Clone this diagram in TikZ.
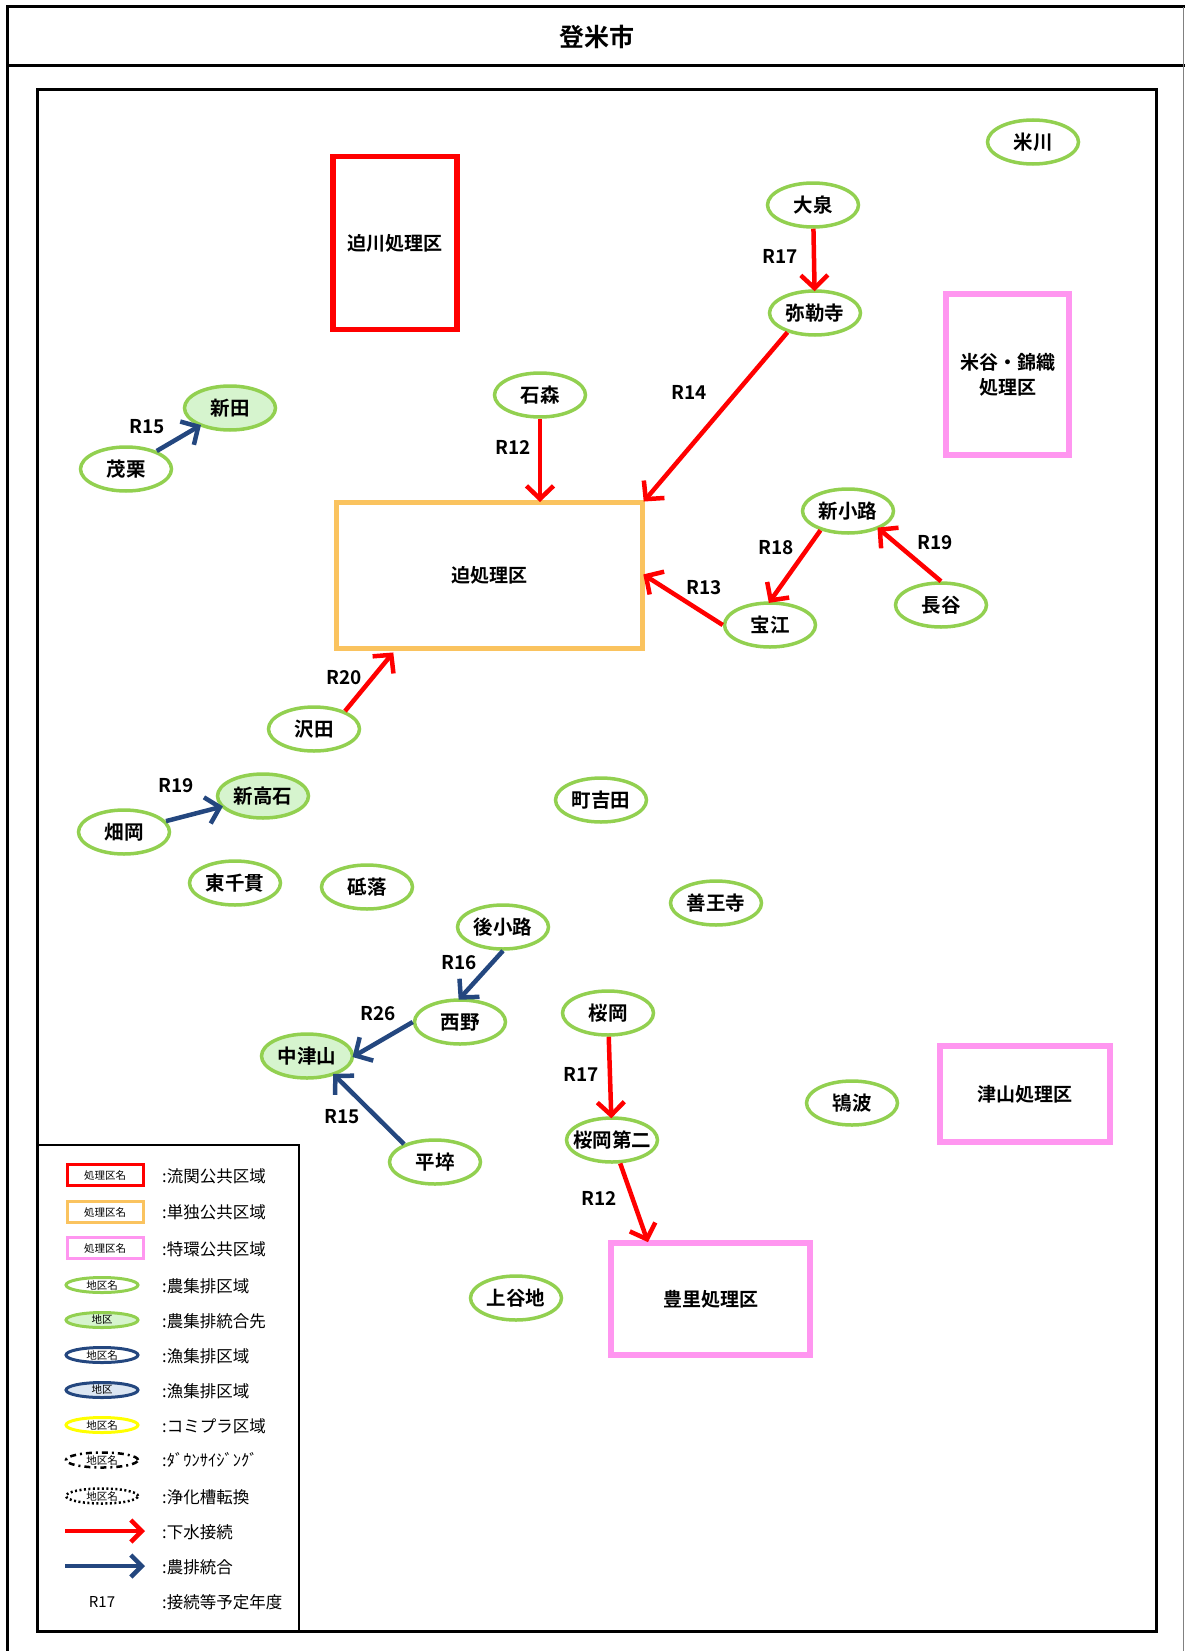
\documentclass[tikz,border=0pt]{standalone}
\usepackage{fontspec}
\setmainfont{Noto Sans CJK JP}[BoldFont={Noto Sans CJK JP Bold}]
\usetikzlibrary{shapes.geometric,arrows.meta,calc}
\definecolor{agreen}{RGB}{146,208,80}
\definecolor{lgreen}{RGB}{214,244,206}
\definecolor{pinkc}{RGB}{255,150,240}
\definecolor{orangec}{RGB}{250,195,95}
\definecolor{bluec}{RGB}{36,71,127}
\definecolor{lblue}{RGB}{220,230,242}
\definecolor{yellowc}{RGB}{255,255,0}
\tikzset{
  area/.style={ellipse, draw=agreen, line width=3.5pt, minimum width=91, minimum height=44, inner sep=0pt, font=\fontsize{19.5}{21}\selectfont\bfseries},
  areaF/.style={area, fill=lgreen},
  shori/.style={draw, line width=5.5pt, inner sep=0pt, font=\fontsize{19}{25}\selectfont\bfseries, align=center},
  redarr/.style={draw=red, line width=4.5pt, -{Straight Barb[length=13pt,width=27pt,line width=4.5pt]}, shorten >=-2pt},
  bluearr/.style={draw=bluec, line width=4.5pt, -{Straight Barb[length=13pt,width=27pt,line width=4.5pt]}, shorten >=-2pt},
  rlab/.style={font=\fontsize{19}{20}\selectfont\bfseries, inner sep=0pt},
  legtxt/.style={font=\fontsize{16.5}{18}\selectfont, anchor=west, inner sep=0pt},
  legrect/.style={draw, line width=3pt, minimum width=76, minimum height=21, inner sep=0pt, font=\fontsize{10.5}{11}\selectfont},
  legell/.style={ellipse, draw, line width=3pt, minimum width=72, minimum height=15, inner sep=0pt, font=\fontsize{10.5}{11}\selectfont},
  legarr/.style={line width=4.5pt, -{Straight Barb[length=11pt,width=22pt,line width=4.5pt]}}
}
\begin{document}
\begin{tikzpicture}[x=1pt,y=-1pt]
\useasboundingbox (0,0) rectangle (1185,1651);
% outer frame
\draw[line width=3pt] (7,1651) -- (7,7) -- (1185,7);
\draw[line width=3pt] (7,66) -- (1185,66);
\draw[line width=1pt, gray] (1183,7) -- (1183,1651);
\node[font=\fontsize{25}{27}\selectfont\bfseries] (title) at (597,37) {登米市};
% inner frame
\draw[line width=3pt] (37,90) rectangle (1156,1631);

% treatment areas
\node[shori, draw=red, minimum width=124, minimum height=173] (sakogawa) at (395,243) {迫川処理区};
\node[shori, draw=pinkc, minimum width=123, minimum height=161] (maiya) at (1007.5,374.5) {米谷・錦織\\処理区};
\node[shori, draw=orangec, line width=5pt, minimum width=306, minimum height=146] (hasama) at (489.5,575.5) {迫処理区};
\node[shori, draw=pinkc, minimum width=170, minimum height=96] (tsuyama) at (1025,1094) {津山処理区};
\node[shori, draw=pinkc, minimum width=199, minimum height=112] (toyosato) at (710.5,1299) {豊里処理区};

% areas
\node[area] (yonekawa) at (1033,142) {米川};
\node[area] (ooizumi) at (813,205) {大泉};
\node[area] (mirokuji) at (815,313) {弥勒寺};
\node[area] (ishimori) at (540,395) {石森};
\node[areaF] (shinden) at (230,408) {新田};
\node[area] (mogurii) at (126,469) {茂栗};
\node[area] (shinkoji) at (848,511) {新小路};
\node[area] (nagaya) at (941,605) {長谷};
\node[area] (takarae) at (770,625) {宝江};
\node[area] (sawada) at (314,729) {沢田};
\node[areaF] (shintakaishi) at (263,796) {新高石};
\node[area] (machiyoshida) at (601,800) {町吉田};
\node[area] (hataoka) at (124,832) {畑岡};
\node[area] (higashisennuki) at (235,883) {東千貫};
\node[area] (toginote) at (367,887) {砥落};
\node[area] (zennouji) at (716,903) {善王寺};
\node[area] (ushirokoji) at (503,927) {後小路};
\node[area] (nishino) at (460,1022) {西野};
\node[area] (sakuraoka) at (608,1013) {桜岡};
\node[areaF] (nakatsuyama) at (307,1056) {中津山};
\node[area] (tokinami) at (852,1103) {鴇波};
\node[area, inner sep=-7pt] (sakuraoka2) at (612,1140) {桜岡第二};
\node[area] (heisotsu) at (435,1162) {平埣};
\node[area] (kamiyachi) at (516,1298) {上谷地};

% connectors
\draw[redarr] (ooizumi) -- (mirokuji);
\draw[redarr] (mirokuji.215) -- (hasama.north east);
\draw[redarr] (ishimori) -- (ishimori |- hasama.north);
\draw[redarr] (shinkoji.215) -- (takarae.north);
\draw[redarr] (nagaya.north) -- (shinkoji.-30);
\draw[redarr] (takarae.west) -- (hasama.east);
\coordinate (sawin) at ($(hasama.south west)+(58,3)$);
\draw[redarr] (sawada.30) -- (sawin);
\draw[bluearr] (mogurii) -- (shinden);
\draw[bluearr] (hataoka) -- (shintakaishi);
\draw[bluearr] (ushirokoji.south) -- (nishino.north);
\draw[bluearr] (nishino.west) -- (nakatsuyama.east);
\draw[bluearr] (heisotsu.150) -- (nakatsuyama.-35);
\draw[redarr] (sakuraoka) -- (sakuraoka2);
\coordinate (toyoin) at ($(toyosato.north west)+(39,0)$);
\draw[redarr] (sakuraoka2) -- (toyoin);

% year labels
\node[rlab] (r1) at (780,256) {R17};
\node[rlab] (r2) at (689,392) {R14};
\node[rlab] (r3) at (513,447) {R12};
\node[rlab] (r4) at (776,548) {R18};
\node[rlab] (r5) at (935,543) {R19};
\node[rlab] (r6) at (704,588) {R13};
\node[rlab] (r7) at (344,678) {R20};
\node[rlab] (r8) at (147,427) {R15};
\node[rlab] (r9) at (176,786) {R19};
\node[rlab] (r10) at (459,963) {R16};
\node[rlab] (r11) at (378,1014) {R26};
\node[rlab] (r12) at (342,1117) {R15};
\node[rlab] (r13) at (581,1074) {R17};
\node[rlab] (r14) at (599,1198) {R12};

% legend
\draw[line width=2.5pt] (37,1145) rectangle (299,1631);
\node[legrect, draw=red] (lg1) at (105,1175) {処理区名};
\node[legtxt] (lt1) at (162,1176) {:流関公共区域};
\node[legrect, draw=orangec] (lg2) at (105,1212) {処理区名};
\node[legtxt] (lt2) at (162,1212) {:単独公共区域};
\node[legrect, draw=pinkc] (lg3) at (105,1248) {処理区名};
\node[legtxt] (lt3) at (162,1249) {:特環公共区域};
\node[legell, draw=agreen] (lg4) at (102,1285) {地区名};
\node[legtxt] (lt4) at (162,1286) {:農集排区域};
\node[legell, draw=agreen, fill=lgreen] (lg5) at (102,1320) {地区};
\node[legtxt] (lt5) at (162,1321) {:農集排統合先};
\node[legell, draw=bluec] (lg6) at (102,1355) {地区名};
\node[legtxt] (lt6) at (162,1356) {:漁集排区域};
\node[legell, draw=bluec, fill=lblue] (lg7) at (102,1390) {地区};
\node[legtxt] (lt7) at (162,1391) {:漁集排区域};
\node[legell, draw=yellowc] (lg8) at (102,1425) {地区名};
\node[legtxt] (lt8) at (162,1426) {:コミプラ区域};
\node[legell, draw=black, line width=2.5pt, dash pattern=on 6pt off 4pt on 2pt off 4pt] (lg9) at (102,1460) {地区名};
\node[legtxt] (lt9) at (162,1460) {:ﾀﾞｳﾝｻｲｼﾞﾝｸﾞ};
\node[legell, draw=black, line width=2.5pt, dash pattern=on 2pt off 2.5pt] (lg10) at (102,1496) {地区名};
\node[legtxt] (lt10) at (162,1497) {:浄化槽転換};
\coordinate (la1) at (65,1531);
\coordinate (la2) at (145,1531);
\draw[legarr, draw=red] (la1) -- (la2);
\node[legtxt] (lt11) at (162,1532) {:下水接続};
\coordinate (lb1) at (65,1566);
\coordinate (lb2) at (145,1566);
\draw[legarr, draw=bluec] (lb1) -- (lb2);
\node[legtxt] (lt12) at (162,1567) {:農排統合};
\node[font=\fontsize{15}{16}\selectfont] (lg13) at (102,1602) {R17};
\node[legtxt] (lt13) at (162,1602) {:接続等予定年度};
\end{tikzpicture}
\end{document}
